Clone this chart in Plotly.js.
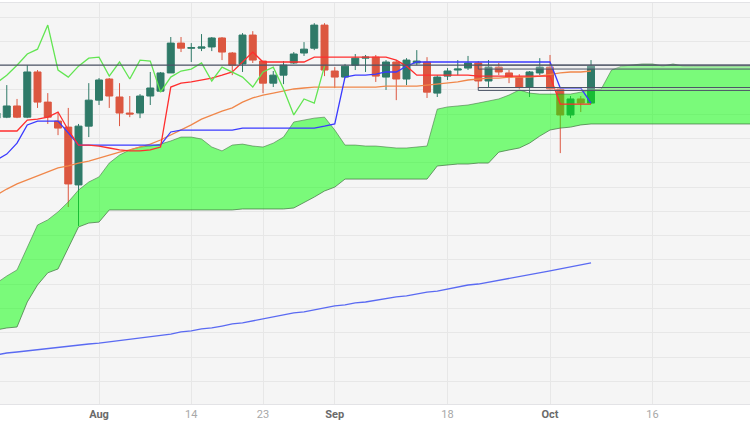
<!DOCTYPE html>
<html>
<head>
<meta charset="utf-8">
<script src="https://cdn.plot.ly/plotly-3.0.1.min.js"></script>
<style>html,body{margin:0;padding:0;background:#fff;}#chart{width:750px;height:430px;}</style>
</head>
<body>
<div id="chart"></div>
<script>
// Trading days (weekends skipped) — the last ones are the cloud's forward projection
const dates = [
 '2023-07-18','2023-07-19','2023-07-20','2023-07-21','2023-07-24','2023-07-25','2023-07-26','2023-07-27','2023-07-28','2023-07-31',
 '2023-08-01','2023-08-02','2023-08-03','2023-08-04','2023-08-07','2023-08-08','2023-08-09','2023-08-10','2023-08-11','2023-08-14',
 '2023-08-15','2023-08-16','2023-08-17','2023-08-18','2023-08-21','2023-08-22','2023-08-23','2023-08-24','2023-08-25','2023-08-28',
 '2023-08-29','2023-08-30','2023-08-31','2023-09-01','2023-09-04','2023-09-05','2023-09-06','2023-09-07','2023-09-08','2023-09-11',
 '2023-09-12','2023-09-13','2023-09-14','2023-09-15','2023-09-18','2023-09-19','2023-09-20','2023-09-21','2023-09-22','2023-09-25',
 '2023-09-26','2023-09-27','2023-09-28','2023-09-29','2023-10-02','2023-10-03','2023-10-04','2023-10-05','2023-10-06','2023-10-09',
 '2023-10-10','2023-10-11','2023-10-12','2023-10-13','2023-10-16','2023-10-17','2023-10-18','2023-10-19','2023-10-20','2023-10-23',
 '2023-10-24','2023-10-25','2023-10-26','2023-10-27','2023-10-30'
];

// OHLC (Jul 18 .. Oct 6)
const open = [155.84,155.88,156.34,155.88,157.74,156.50,155.72,155.47,153.09,155.51,
 156.58,157.45,156.71,156.05,156.05,156.75,156.95,157.70,158.93,158.72,
 158.72,158.77,159.14,158.52,158.07,159.26,158.19,157.28,157.61,158.11,
 158.52,158.72,159.67,157.78,157.53,158.02,158.31,158.35,157.53,158.15,
 157.45,158.11,158.15,156.87,157.57,157.82,157.90,158.11,157.37,157.94,
 157.70,157.53,157.12,157.70,157.94,157.04,155.97,156.63,156.46];
const high = [156.26,157.20,156.63,158.02,157.82,156.87,156.09,156.26,155.60,157.28,
 157.49,157.49,157.28,156.75,156.83,157.74,157.74,159.18,159.18,158.93,
 159.30,159.18,159.18,158.56,159.34,159.42,158.19,157.78,158.19,158.56,
 158.97,159.75,159.75,157.94,158.07,158.48,158.44,158.44,158.23,158.23,
 158.31,158.64,158.35,157.61,157.90,158.23,158.40,158.19,158.23,158.11,
 157.82,157.65,157.78,158.31,158.44,157.08,156.75,156.75,158.23];
const low = [155.76,155.84,155.84,155.84,156.26,155.60,155.14,152.18,151.40,155.06,
 156.38,156.26,155.51,155.88,155.84,156.38,156.91,157.70,158.56,158.15,
 158.60,158.60,158.23,157.61,157.74,158.11,156.87,157.12,157.24,158.07,
 158.40,158.64,157.57,157.08,157.49,157.82,157.74,157.33,157.00,156.58,
 157.20,158.02,156.67,156.71,157.41,157.61,157.82,157.08,157.12,157.61,
 157.28,157.04,156.71,157.61,157.00,154.40,155.84,156.09,156.42];
const close = [156.05,156.34,155.88,157.74,156.50,155.88,155.43,153.13,155.51,156.58,
 157.41,156.75,156.05,156.01,156.75,157.08,157.70,158.93,158.72,158.74,
 158.77,159.14,158.56,158.02,159.26,158.23,157.28,157.61,158.02,158.48,
 158.68,159.67,157.82,157.53,157.98,158.31,158.35,157.57,158.15,157.45,
 158.23,158.19,156.91,157.53,157.78,157.86,158.11,157.37,157.94,157.74,
 157.53,157.12,157.74,157.94,157.04,155.97,156.63,156.46,157.98];

// Ichimoku conversion line (red) and base line (blue)
const tenkan = [155.31,155.31,155.31,155.76,155.80,155.88,156.09,155.35,154.73,154.73,
 154.69,154.61,154.53,154.49,154.49,154.53,154.65,157.12,157.28,157.33,
 157.41,157.49,157.61,157.74,158.15,158.56,158.15,158.15,158.15,158.15,
 158.15,158.35,158.35,158.35,158.35,158.35,158.35,158.35,158.35,158.23,
 157.98,157.61,157.61,157.61,157.61,157.61,157.61,157.57,157.57,157.57,
 157.57,157.57,157.57,157.57,157.57,156.42,156.42,156.42,156.42];
const kijun = [154.12,154.36,154.81,155.56,155.72,155.72,155.72,155.23,154.73,154.73,
 154.73,154.73,154.73,154.73,154.73,154.73,154.73,155.27,155.35,155.35,
 155.35,155.35,155.35,155.35,155.43,155.43,155.43,155.43,155.43,155.43,
 155.43,155.43,155.51,155.60,157.53,157.61,157.61,157.65,157.74,157.74,
 157.98,158.15,158.15,158.15,158.15,158.15,158.15,158.15,158.15,158.15,
 158.15,158.15,158.15,158.15,158.15,157.08,157.08,157.08,156.46];

// Moving averages
const sma50 = [152.67,152.92,153.13,153.29,153.46,153.62,153.79,153.87,153.99,154.07,
 154.20,154.32,154.44,154.53,154.65,154.77,154.94,155.14,155.35,155.56,
 155.80,155.97,156.13,156.26,156.50,156.67,156.79,156.87,156.95,157.04,
 157.08,157.12,157.12,157.12,157.12,157.12,157.12,157.12,157.16,157.16,
 157.16,157.16,157.20,157.24,157.28,157.33,157.41,157.45,157.49,157.49,
 157.53,157.53,157.53,157.57,157.65,157.70,157.74,157.74,157.78];
const sma200 = [146.09,146.17,146.21,146.26,146.30,146.34,146.42,146.46,146.50,146.54,
 146.58,146.63,146.67,146.75,146.79,146.83,146.87,146.95,147.04,147.08,
 147.16,147.20,147.28,147.37,147.41,147.49,147.57,147.65,147.74,147.82,
 147.86,147.94,148.02,148.11,148.15,148.23,148.27,148.35,148.40,148.48,
 148.52,148.60,148.68,148.72,148.81,148.89,148.97,149.01,149.09,149.18,
 149.26,149.34,149.42,149.47,149.55,149.63,149.71,149.79,149.88];

// Cloud spans (Jul 18 .. Oct 30)
const spanA = [149.05,149.34,149.59,150.49,151.44,151.65,151.98,152.39,152.88,153.21,
 153.42,153.99,154.32,154.53,154.65,154.69,154.77,154.90,155.06,155.06,
 154.98,154.65,154.49,154.73,154.77,154.69,154.65,154.81,155.06,155.68,
 155.76,155.84,155.88,155.35,154.73,154.73,154.69,154.69,154.65,154.61,
 154.61,154.65,154.69,156.21,156.30,156.34,156.38,156.46,156.54,156.63,
 156.79,157.00,156.87,156.83,156.83,156.83,156.83,156.91,157.00,157.04,
 157.82,157.98,158.02,158.07,158.07,157.98,158.07,157.98,157.98,157.98,
 157.98,157.98,157.98,157.98,157.98];
const spanB = [147.12,147.20,147.24,148.27,148.97,149.47,149.63,150.49,151.36,151.52,
 151.56,152.06,152.06,152.06,152.06,152.06,152.06,152.06,152.06,152.06,
 152.06,152.06,152.06,152.06,152.10,152.10,152.10,152.10,152.10,152.14,
 152.35,152.59,152.84,153.00,153.33,153.33,153.33,153.33,153.33,153.33,
 153.33,153.33,153.33,153.87,153.91,153.95,153.95,153.99,153.99,154.44,
 154.53,154.61,154.81,155.10,155.35,155.43,155.47,155.56,155.60,155.60,
 155.60,155.60,155.60,155.60,155.60,155.60,155.60,155.60,155.60,155.60,
 155.60,155.60,155.60,155.60,155.60];

// Drawn levels
const resistanceLine = 158.02;
const boxStart = '2023-09-21';
const upperBox = [157.86, 158.02];
const lowerBox = [156.98, 157.10];

// Axis ticks
const tickDates = ['2023-08-01','2023-08-14','2023-08-23','2023-09-01','2023-09-18','2023-10-02','2023-10-16'];
const tickLabels = ['Aug','14','23','Sep','18','Oct','16'];
const monthTicks = ['Aug','Sep','Oct'];

const candleDates = dates.slice(0, close.length);
const lag = 26;

const traces = [
  {type:'candlestick', x:candleDates, open:open, high:high, low:low, close:close,
   increasing:{line:{color:'#2f7a68', width:1}, fillcolor:'#2f7a68'},
   decreasing:{line:{color:'#dc5740', width:1}, fillcolor:'#dc5740'},
   whiskerwidth:0, hoverinfo:'skip'},
  {type:'scatter', mode:'lines', x:dates, y:spanB, line:{color:'rgba(70,120,70,0.75)', width:1}, hoverinfo:'skip'},
  {type:'scatter', mode:'lines', x:dates, y:spanA, fill:'tonexty', fillcolor:'rgba(0,255,0,0.5)',
   line:{color:'rgba(70,120,70,0.6)', width:1}, hoverinfo:'skip'},
  {type:'scatter', mode:'lines', x:candleDates, y:sma200, line:{color:'#5a6af2', width:1.3}, hoverinfo:'skip'},
  {type:'scatter', mode:'lines', x:candleDates, y:sma50, line:{color:'#f0874a', width:1.3}, hoverinfo:'skip'},
  {type:'scatter', mode:'lines', x:candleDates, y:kijun, line:{color:'#3a3aff', width:1.3}, hoverinfo:'skip'},
  {type:'scatter', mode:'lines', x:candleDates, y:tenkan, line:{color:'#ff2e2e', width:1.3}, hoverinfo:'skip'},
  {type:'scatter', mode:'lines', x:dates.slice(0, close.length - lag), y:close.slice(lag),
   line:{color:'#62e552', width:1.3}, hoverinfo:'skip'}
];

const lastDate = dates[dates.length - 1];
const shapes = [
  {type:'line', xref:'paper', x0:0, x1:1, yref:'y', y0:resistanceLine, y1:resistanceLine,
   line:{color:'#4d5566', width:1.2}},
  {type:'rect', xref:'x', x0:boxStart, x1:lastDate, yref:'y', y0:upperBox[0], y1:upperBox[1],
   line:{color:'#4d5566', width:1}, fillcolor:'rgba(230,230,230,0.3)'},
  {type:'rect', xref:'x', x0:boxStart, x1:lastDate, yref:'y', y0:lowerBox[0], y1:lowerBox[1],
   line:{color:'#4d5566', width:1}, fillcolor:'rgba(230,230,230,0.3)'}
];

const tickText = tickLabels.map(t => monthTicks.includes(t)
  ? '<span style="color:#6a6a6a;font-weight:bold">' + t + '</span>'
  : '<span style="color:#a8a8a8">' + t + '</span>');

const startIdx = dates.indexOf('2023-08-01');
const layout = {
  width:750, height:430,
  margin:{l:0, r:0, t:3, b:26, pad:0},
  paper_bgcolor:'#ffffff', plot_bgcolor:'#f5f5f5',
  showlegend:false,
  boxgap:0.15, boxgroupgap:0.2,
  font:{family:'"Liberation Sans Narrow", Roboto, sans-serif', size:11, color:'#999'},
  xaxis:{type:'category', categoryorder:'array', categoryarray:dates,
    range:[startIdx - 9.66, startIdx + 63.51],
    tickvals:tickDates, ticktext:tickText, ticks:'', showgrid:true, gridcolor:'#e7e7e7', gridwidth:1,
    showline:true, mirror:true, linecolor:'#e3e3e6', linewidth:1,
    rangeslider:{visible:false}, fixedrange:true,
    tickfont:{family:'"Liberation Sans Narrow", Roboto, sans-serif', size:11, color:'#999'}},
  yaxis:{range:[144.07, 160.58], tick0:0, dtick:1, showticklabels:false, ticks:'',
    showgrid:true, gridcolor:'#e7e7e7', zeroline:false, showline:false, fixedrange:true},
  shapes:shapes
};

Plotly.newPlot('chart', traces, layout, {displayModeBar:false, staticPlot:true});
</script>
</body>
</html>
